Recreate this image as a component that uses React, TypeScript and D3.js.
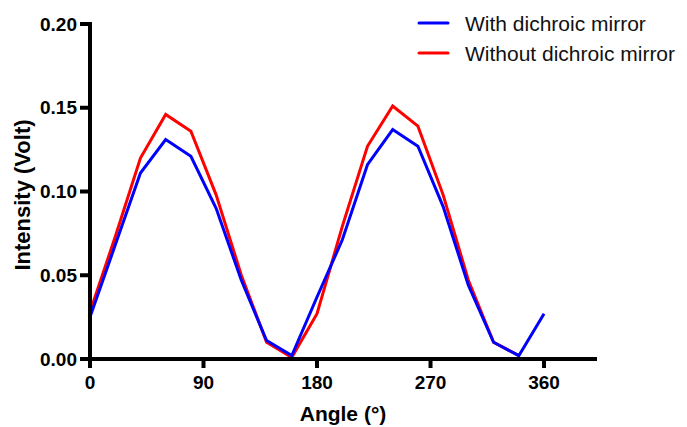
import React from "react";
import * as d3 from "d3";

const angles = [0, 20, 40, 60, 80, 100, 120, 140, 160, 180, 200, 220, 240, 260, 280, 300, 320, 340, 360];
const withMirror = [0.025, 0.068, 0.111, 0.131, 0.121, 0.090, 0.047, 0.011, 0.002, 0.037, 0.071, 0.116, 0.137, 0.127, 0.091, 0.044, 0.010, 0.002, 0.027];
const withoutMirror = [0.028, 0.073, 0.120, 0.146, 0.136, 0.098, 0.050, 0.010, 0.001, 0.027, 0.079, 0.127, 0.151, 0.139, 0.098, 0.047, 0.010, 0.002];
const xTicks = [0, 90, 180, 270, 360];
const yTicks = [0, 0.05, 0.1, 0.15, 0.2];
const seriesNames = ["With dichroic mirror", "Without dichroic mirror"];
const seriesColors = ["#0000ff", "#ff0000"];

export default function App() {
  const W = 687;
  const H = 427;
  const x0 = 90;
  const x1 = 597;
  const yTop = 24;
  const yBottom = 359;
  const x = d3.scaleLinear().domain([0, 402]).range([x0, x1]);
  const y = d3.scaleLinear().domain([0, 0.2]).range([yBottom, yTop]);
  const font = "'Liberation Sans', Arial, sans-serif";

  const line = d3
    .line<[number, number]>()
    .x((d) => x(d[0]))
    .y((d) => y(d[1]));

  const redPts: [number, number][] = withoutMirror.map((v, i) => [angles[i], v]);
  const bluePts: [number, number][] = withMirror.map((v, i) => [angles[i], v]);

  return (
    <svg
      width={W}
      height={H}
      style={{ position: "absolute", left: 0, top: 0, background: "#fff" }}
      fontFamily={font}
    >
      <rect width={W} height={H} fill="#fff" />
      <path d={line(redPts) ?? ""} fill="none" stroke={seriesColors[1]} strokeWidth={3} strokeLinejoin="miter" />
      <path d={line(bluePts) ?? ""} fill="none" stroke={seriesColors[0]} strokeWidth={3} strokeLinejoin="miter" />

      {/* axes */}
      <line x1={x0} x2={x0} y1={yTop - 2} y2={yBottom + 2} stroke="#000" strokeWidth={4} />
      <line x1={x0 - 2} x2={x1} y1={yBottom} y2={yBottom} stroke="#000" strokeWidth={4} />

      {yTicks.map((t) => (
        <g key={"y" + t}>
          <line x1={x0 - 10} x2={x0} y1={y(t)} y2={y(t)} stroke="#000" strokeWidth={4} />
          <text
            x={x0 - 13}
            y={y(t)}
            dy="0.35em"
            textAnchor="end"
            fontSize={19}
            fontWeight="bold"
            fill="#000"
          >
            {t.toFixed(2)}
          </text>
        </g>
      ))}

      {xTicks.map((t) => (
        <g key={"x" + t}>
          <line x1={x(t)} x2={x(t)} y1={yBottom} y2={yBottom + 9} stroke="#000" strokeWidth={4} />
          <text x={x(t)} y={y(0) + 30} textAnchor="middle" fontSize={19} fontWeight="bold" fill="#000">
            {t}
          </text>
        </g>
      ))}

      <text x={343} y={421} textAnchor="middle" fontSize={21} fontWeight="bold" fill="#000">
        Angle (°)
      </text>
      <text
        transform={`translate(30, 195) rotate(-90)`}
        textAnchor="middle"
        fontSize={22}
        fontWeight="bold"
        fill="#000"
      >
        Intensity (Volt)
      </text>

      {seriesNames.map((name, i) => (
        <g key={name} transform={`translate(0, ${23 + i * 30})`}>
          <line x1={419} x2={448} y1={0} y2={0} stroke={seriesColors[i]} strokeWidth={3} strokeLinecap="round" />
          <text x={465} y={8} fontSize={21} fill="#111">
            {name}
          </text>
        </g>
      ))}
    </svg>
  );
}
